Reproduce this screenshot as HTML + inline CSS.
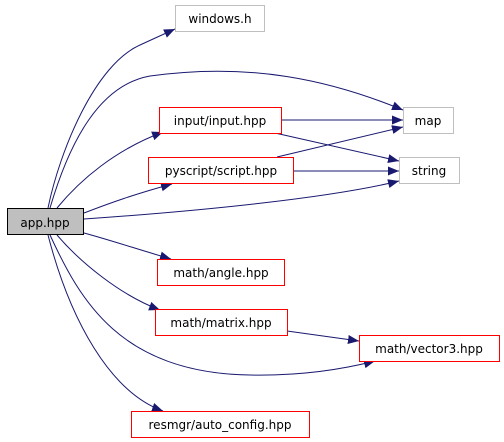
<!DOCTYPE html>
<html><head><meta charset="utf-8"><style>
html,body{margin:0;padding:0;background:#fff;}
svg{display:block;}
text{font-family:"DejaVu Sans","Liberation Sans",sans-serif;font-size:12px;fill:#000;}
</style></head><body>
<svg width="504" height="442" viewBox="0 0 504 442" xmlns="http://www.w3.org/2000/svg">
<defs>
<marker id="a" markerUnits="userSpaceOnUse" markerWidth="12" markerHeight="10" refX="11" refY="4.5" orient="auto">
<path d="M0,0 L11,4.5 L0,9 Z" fill="#191970"/>
</marker>
</defs>
<g fill="none" stroke="#191970" stroke-width="1" marker-end="url(#a)">
<path d="M48,208 C60,150 95,65 140,45 L175,29"/>
<path d="M50,208 C70,140 100,85 150,76 C250,62 330,80 403,110"/>
<path d="M57,208 C80,180 115,150 163,132"/>
<path d="M84,213 C110,203 135,194 172,184"/>
<path d="M84,219 C200,211 330,198 399,181"/>
<path d="M281,120 L403,120"/>
<path d="M275,133 L399,161"/>
<path d="M277,157 L403,127"/>
<path d="M293,171 L399,171"/>
<path d="M84,233 C110,240 140,250 171,259"/>
<path d="M57,235 C80,262 120,295 160,310"/>
<path d="M50,235 C80,300 120,373 250,375 C300,376 340,370 375,361"/>
<path d="M287,331 L359,341"/>
<path d="M48,235 C70,320 110,392 163,411"/>
</g>
<g stroke-width="1">
<rect x="175.5" y="5.5" width="89" height="26" fill="#fff" stroke="#bfbfbf"/>
<rect x="159.5" y="107.5" width="122" height="26" fill="#fff" stroke="#ff0000"/>
<rect x="403.5" y="107.5" width="50" height="26" fill="#fff" stroke="#bfbfbf"/>
<rect x="148.5" y="157.5" width="145" height="26" fill="#fff" stroke="#ff0000"/>
<rect x="399.5" y="157.5" width="60" height="26" fill="#fff" stroke="#bfbfbf"/>
<rect x="7.5" y="208.5" width="76" height="26" fill="#bfbfbf" stroke="#000"/>
<rect x="157.5" y="259.5" width="127" height="26" fill="#fff" stroke="#ff0000"/>
<rect x="155.5" y="309.5" width="132" height="26" fill="#fff" stroke="#ff0000"/>
<rect x="359.5" y="335.5" width="140" height="26" fill="#fff" stroke="#ff0000"/>
<rect x="131.5" y="411.5" width="178" height="26" fill="#fff" stroke="#ff0000"/>
</g>
<g text-anchor="middle">
<text x="220" y="23">windows.h</text>
<text x="220" y="125">input/input.hpp</text>
<text x="428" y="125">map</text>
<text x="221" y="175">pyscript/script.hpp</text>
<text x="429" y="175">string</text>
<text x="45" y="227">app.hpp</text>
<text x="221" y="277">math/angle.hpp</text>
<text x="221" y="327">math/matrix.hpp</text>
<text x="429" y="353">math/vector3.hpp</text>
<text x="220" y="429">resmgr/auto_config.hpp</text>
</g>
</svg>
</body></html>
